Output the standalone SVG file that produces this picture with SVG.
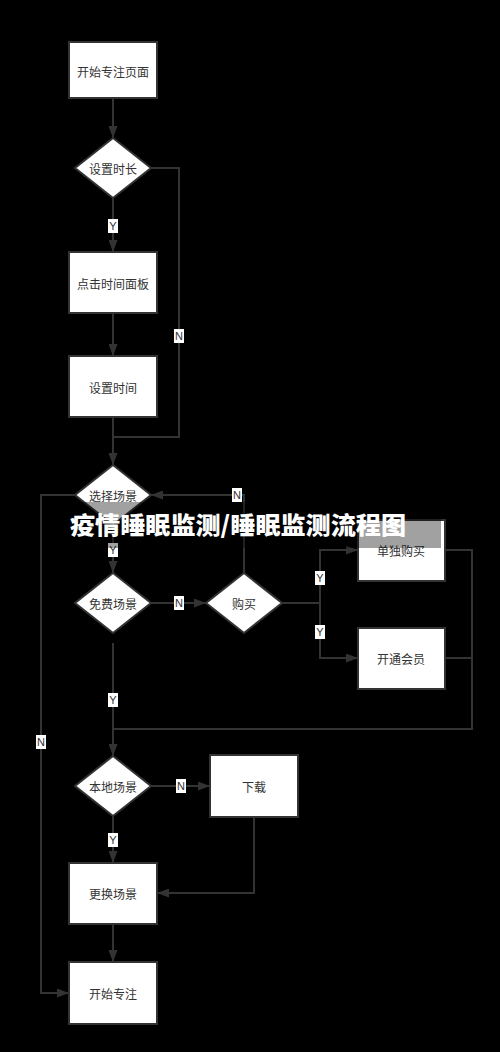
<svg xmlns="http://www.w3.org/2000/svg" width="500" height="1052" viewBox="0 0 500 1052">
<defs>
<style>
.bg{fill:#000}
.box{fill:#fff;stroke:#333;stroke-width:2}
.nt{font-family:"Noto Sans CJK SC","Noto Sans",sans-serif;font-size:12px;fill:#333;text-anchor:middle;dominant-baseline:central}
.ln{fill:none;stroke:#333;stroke-width:2}
.lb{fill:#fff}
.lt{font-family:"Liberation Sans","Noto Sans",sans-serif;font-size:11px;fill:#333;text-anchor:middle;dominant-baseline:central}
.title{font-family:"Noto Sans CJK SC","Noto Sans",sans-serif;font-size:24px;font-weight:900;fill:#fff}
</style>
<marker id="ah" viewBox="0 0 12 9" refX="12" refY="4.5" markerWidth="12" markerHeight="9" markerUnits="userSpaceOnUse" orient="auto">
<path d="M0,0 L12,4.5 L0,9 z" fill="#333"/>
</marker>
</defs>
<rect class="bg" x="0" y="0" width="500" height="1052"/>

<g id="connectors">
<path class="ln" d="M113,98 V138" marker-end="url(#ah)"/>
<path class="ln" d="M113,198 V252" marker-end="url(#ah)"/>
<path class="ln" d="M151,168 H179 V437 H113"/>
<path class="ln" d="M113,313 V356" marker-end="url(#ah)"/>
<path class="ln" d="M113,417 V465" marker-end="url(#ah)"/>
<path class="ln" d="M75,495 H41 V993 H69" marker-end="url(#ah)"/>
<path class="ln" d="M113,525 V573" marker-end="url(#ah)"/>
<path class="ln" d="M151,603 H206" marker-end="url(#ah)"/>
<path class="ln" d="M244,573 V495 H151" marker-end="url(#ah)"/>
<path class="ln" d="M282,603 H320 V550 H358" marker-end="url(#ah)"/>
<path class="ln" d="M320,603 V658 H358" marker-end="url(#ah)"/>
<path class="ln" d="M445,550 H472 V729 H113"/>
<path class="ln" d="M445,658 H472"/>
<path class="ln" d="M113,643 V756" marker-end="url(#ah)"/>
<path class="ln" d="M151,786 H210" marker-end="url(#ah)"/>
<path class="ln" d="M254,817 V893 H157" marker-end="url(#ah)"/>
<path class="ln" d="M113,816 V863" marker-end="url(#ah)"/>
<path class="ln" d="M113,924 V962" marker-end="url(#ah)"/>

<rect class="lb" x="108" y="219" width="10" height="14"/><text class="lt" x="113" y="226">Y</text>
<rect class="lb" x="174" y="329" width="10" height="14"/><text class="lt" x="179" y="336">N</text>
<rect class="lb" x="232" y="488" width="10" height="14"/><text class="lt" x="237" y="495">N</text>
<rect class="lb" x="36" y="735" width="10" height="14"/><text class="lt" x="41" y="742">N</text>
<rect class="lb" x="108" y="543" width="10" height="14"/><text class="lt" x="113" y="550">Y</text>
<rect class="lb" x="174" y="596" width="10" height="14"/><text class="lt" x="179" y="603">N</text>
<rect class="lb" x="315" y="571" width="10" height="14"/><text class="lt" x="320" y="578">Y</text>
<rect class="lb" x="315" y="625" width="10" height="14"/><text class="lt" x="320" y="632">Y</text>
<rect class="lb" x="108" y="693" width="10" height="14"/><text class="lt" x="113" y="700">Y</text>
<rect class="lb" x="176" y="779" width="10" height="14"/><text class="lt" x="181" y="786">N</text>
<rect class="lb" x="108" y="833" width="10" height="14"/><text class="lt" x="113" y="840">Y</text>
</g>

<g id="n1"><rect class="box" x="69" y="42" width="88" height="56"/><text class="nt" x="113" y="71">开始专注页面</text></g>
<g id="n2"><polygon class="box" points="113,138 151,168 113,198 75,168"/><text class="nt" x="113" y="168">设置时长</text></g>
<g id="n3"><rect class="box" x="69" y="252" width="88" height="61"/><text class="nt" x="113" y="283">点击时间面板</text></g>
<g id="n4"><rect class="box" x="69" y="356" width="88" height="61"/><text class="nt" x="113" y="387">设置时间</text></g>
<g id="n5"><polygon class="box" points="113,465 151,495 113,525 75,495"/><text class="nt" x="113" y="495">选择场景</text></g>
<g id="n6"><polygon class="box" points="113,573 151,603 113,633 75,603"/><text class="nt" x="113" y="603">免费场景</text></g>
<g id="n7"><polygon class="box" points="244,573 282,603 244,633 206,603"/><text class="nt" x="244" y="603">购买</text></g>
<g id="n8"><rect class="box" x="358" y="520" width="87" height="61"/><text class="nt" x="401" y="550">单独购买</text></g>
<g id="n9"><rect class="box" x="358" y="628" width="87" height="61"/><text class="nt" x="401" y="658">开通会员</text></g>
<g id="n10"><polygon class="box" points="113,756 151,786 113,816 75,786"/><text class="nt" x="113" y="786">本地场景</text></g>
<g id="n11"><rect class="box" x="210" y="755" width="88" height="62"/><text class="nt" x="254" y="786">下载</text></g>
<g id="n12"><rect class="box" x="69" y="863" width="88" height="61"/><text class="nt" x="113" y="893">更换场景</text></g>
<g id="n13"><rect class="box" x="69" y="962" width="88" height="62"/><text class="nt" x="113" y="993">开始专注</text></g>

<g id="title">
<rect x="62" y="502" width="379" height="46" fill="#000" fill-opacity="0.37"/>
<text class="title" x="70" y="534" textLength="336" lengthAdjust="spacingAndGlyphs">疫情睡眠监测/睡眠监测流程图</text>
</g>
</svg>
